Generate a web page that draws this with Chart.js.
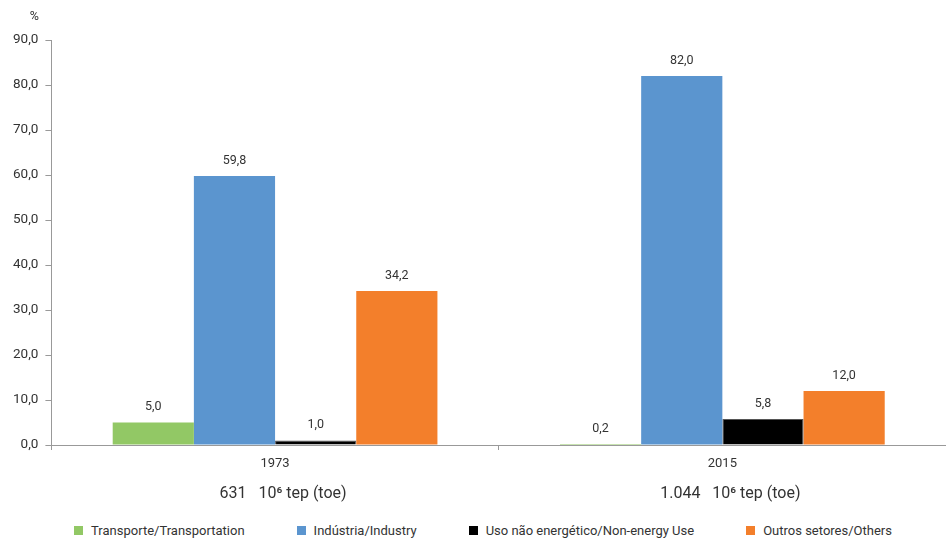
<!DOCTYPE html>
<html>
<head>
<meta charset="utf-8">
<script src="https://cdn.jsdelivr.net/npm/chart.js@4/dist/chart.umd.min.js"></script>
<style>
  html, body { margin: 0; padding: 0; background: #fff; }
  #wrap { width: 946px; height: 519px; position: relative; }
  #legend { width: 926px; height: 19px; padding: 2px 0 0 20px; display: flex; justify-content: center; gap: 52px;
            font: 13px Roboto, "DejaVu Sans", sans-serif; color: #333; line-height: 19px; }
  #legend span.item { display: flex; align-items: center; }
  #legend span.box { width: 9px; height: 9px; margin-right: 8px; display: inline-block; }
</style>
</head>
<body>
<div id="wrap"><canvas id="energyShare"></canvas></div>
<div id="legend"></div>
<script>
// dados
const years = ['1973', '2015'];
const totals = ['631   10\u2076 tep (toe)', '1.044   10\u2076 tep (toe)'];
const transporte = [5.0, 0.2];
const industria = [59.8, 82.0];
const usoNaoEnergetico = [1.0, 5.8];
const outros = [34.2, 12.0];
const yTicks = [0, 10, 20, 30, 40, 50, 60, 70, 80, 90];

const fmt = v => v.toFixed(1).replace('.', ',');
const FONT = 'Roboto, "DejaVu Sans", sans-serif';

// rótulos de valor acima das barras, "%" e totais por ano
const valueLabels = {
  id: 'valueLabels',
  afterDatasetsDraw(chart) {
    const ctx = chart.ctx;
    ctx.save();
    ctx.font = '12.5px ' + FONT;
    ctx.fillStyle = '#333';
    ctx.textAlign = 'center';
    ctx.textBaseline = 'bottom';
    chart.data.datasets.forEach((ds, i) => {
      chart.getDatasetMeta(i).data.forEach((bar, j) => {
        ctx.fillText(fmt(ds.data[j]), bar.x, bar.y - 9);
      });
    });
    const y = chart.scales.y;
    ctx.fillText('%', y.right - 17, y.top - 17);

    const x = chart.scales.x;
    ctx.font = '16px ' + FONT;
    ctx.textBaseline = 'middle';
    totals.forEach((t, i) => {
      ctx.fillText(t, x.getPixelForValue(i) + 8, x.top + 49);
    });
    ctx.restore();
  }
};

const ctx = document.getElementById('energyShare').getContext('2d');
const chart = new Chart(ctx, {
  type: 'bar',
  data: {
    labels: years,
    datasets: [
      { label: 'Transporte/Transportation', data: transporte, backgroundColor: '#92c865' },
      { label: 'Indústria/Industry', data: industria, backgroundColor: '#5b95cf' },
      { label: 'Uso não energético/Non-energy Use', data: usoNaoEnergetico, backgroundColor: '#000000', borderColor: '#555', borderWidth: 1 },
      { label: 'Outros setores/Others', data: outros, backgroundColor: '#f37f2b' }
    ]
  },
  options: {
    responsive: true,
    maintainAspectRatio: false,
    animation: false,
    layout: { padding: { top: 40, right: 0, left: 6, bottom: 0 } },
    datasets: { bar: { barPercentage: 1, categoryPercentage: 0.726 } },
    plugins: {
      legend: { display: false },
      tooltip: { enabled: false }
    },
    scales: {
      x: {
        offset: true,
        afterFit: s => { s.height = 74; },
        border: { color: '#999' },
        grid: { drawOnChartArea: false, drawTicks: true, tickLength: 5, color: '#999' },
        ticks: { color: '#333', font: { family: FONT, size: 13 }, padding: 6 }
      },
      y: {
        min: 0, max: 90,
        afterBuildTicks: s => { s.ticks = yTicks.map(v => ({ value: v })); },
        border: { color: '#999' },
        grid: { drawOnChartArea: false, drawTicks: true, tickLength: 6, color: '#999' },
        ticks: { color: '#333', font: { family: FONT, size: 13.5 }, padding: 7, callback: v => fmt(v) }
      }
    }
  },
  plugins: [valueLabels]
});

// legenda em HTML
const legendEl = document.getElementById('legend');
chart.data.datasets.forEach(ds => {
  const item = document.createElement('span');
  item.className = 'item';
  const box = document.createElement('span');
  box.className = 'box';
  box.style.background = ds.backgroundColor;
  item.appendChild(box);
  item.appendChild(document.createTextNode(ds.label));
  legendEl.appendChild(item);
});
</script>
</body>
</html>
